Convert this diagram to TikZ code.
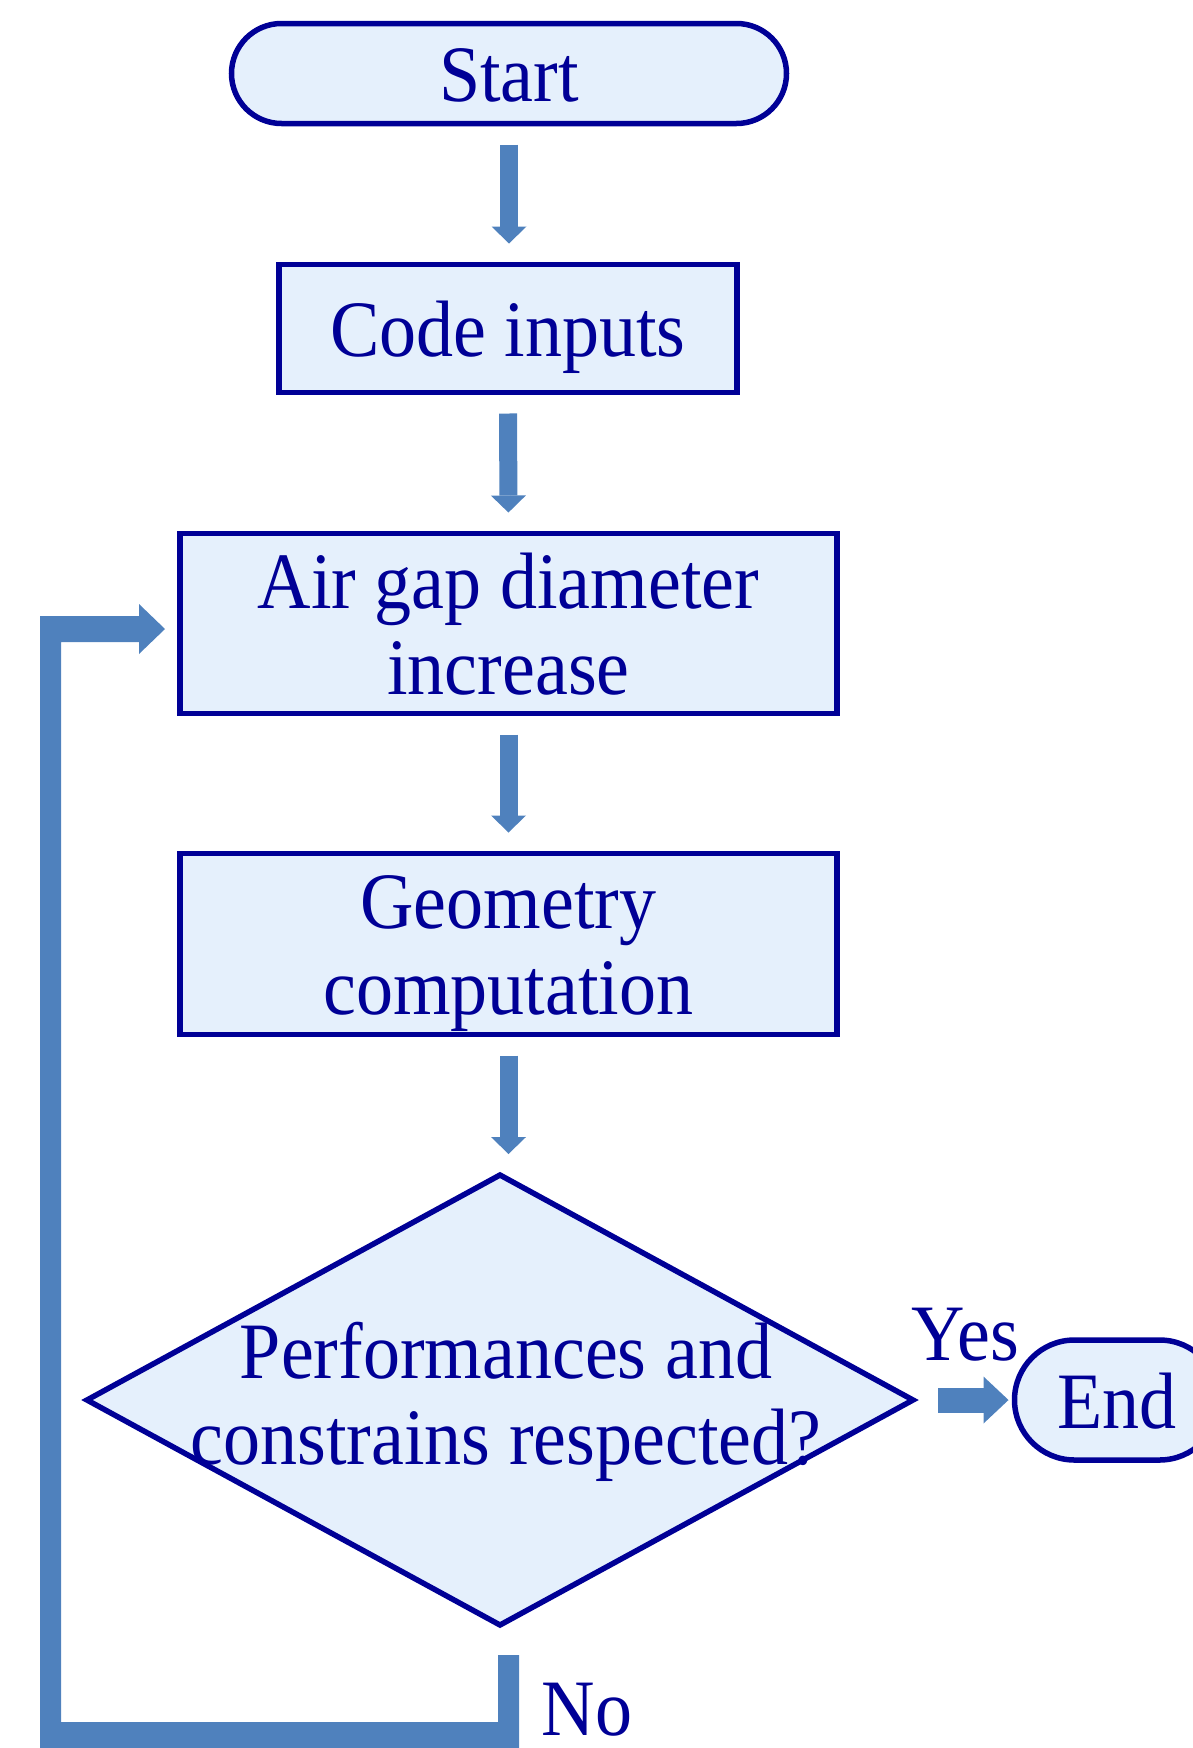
\documentclass[tikz,border=0pt]{standalone}
\usepackage{fontspec}
\setmainfont{Liberation Serif}[FakeStretch=0.925]
\usetikzlibrary{arrows.meta,shapes.geometric}
\definecolor{navy}{RGB}{0,0,150}
\definecolor{boxfill}{RGB}{229,240,252}
\definecolor{arrowblue}{RGB}{79,129,189}
\newcommand\ts{\rule{0pt}{73pt}}
\newcommand\bs{\rule[-17pt]{0pt}{17pt}}
\newcommand\os{\rule[-17pt]{0pt}{90pt}}
\begin{document}
\begin{tikzpicture}[x=1pt,y=-1pt,
  bigfont/.style={font=\fontsize{80}{86}\selectfont},
  box/.style={draw=navy, line width=5.5pt, fill=boxfill, text=navy, bigfont,
              align=center, inner sep=0pt, outer sep=0pt},
  term/.style={box, rounded corners=50pt},
  lbl/.style={text=navy, bigfont, inner sep=0pt, outer sep=0pt, anchor=base},
  flow/.style={draw=arrowblue, line width=18pt, line cap=butt,
               -{Triangle[width=35pt,length=17pt,line width=0pt]},
               shorten <=21pt, shorten >=21pt},
  flowh/.style={draw=arrowblue, line width=25pt, line cap=butt,
               -{Triangle[width=47pt,length=25pt,line width=0pt]}},
]
\useasboundingbox (0,0) rectangle (1193,1748);
\clip (0,0) rectangle (1193,1748);

\node[term, minimum width=555pt, minimum height=100pt] (start) at (509,73.5) {\os Start};
\node[box, minimum width=458pt, minimum height=128pt] (code) at (508,328.5) {\os Code inputs};
\node[box, minimum width=657pt, minimum height=180pt] (air) at (508.5,623.5) {\ts Air gap diameter\\increase\bs};
\node[box, minimum width=657pt, minimum height=181pt] (geo) at (508.5,944) {\ts Geometry\\computation\bs};
\node[box, diamond, minimum width=826pt, minimum height=450pt] (dec) at (500,1400) {};
\node[lbl, anchor=center, align=center] (dectext) at (506,1393) {\ts Performances and\\constrains respected?\bs};
\node[term, rounded corners=60pt, minimum width=205pt, minimum height=120pt] (end) at (1117,1400) {\os End};

\draw[flow] (start.south) -- (start.south |- code.north);
\draw[flow] (code.south) -- (air.north);
\draw[flow] (air.south) -- (geo.north);
\draw[flow] (geo.south) -- (geo.south |- dec.north);
\draw[flowh, shorten <=25pt, shorten >=6pt] (dec.east) -- (end.west);

\coordinate (nostart) at (508.5,1655);
\fill[arrowblue] ([xshift=-10.5pt]nostart) -- ([xshift=10.5pt]nostart) -- (519,1748) -- (40,1748) -- (40,616)
  -- (139,616) -- (139,604) -- (165,629) -- (139,654) -- (139,642) -- (61,642) -- (61,1722) -- (498,1722) -- cycle;

\node[lbl] (yes) at (965.5,1360) {Yes};
\node[lbl] (no) at (587,1735) {No};
\end{tikzpicture}
\end{document}
